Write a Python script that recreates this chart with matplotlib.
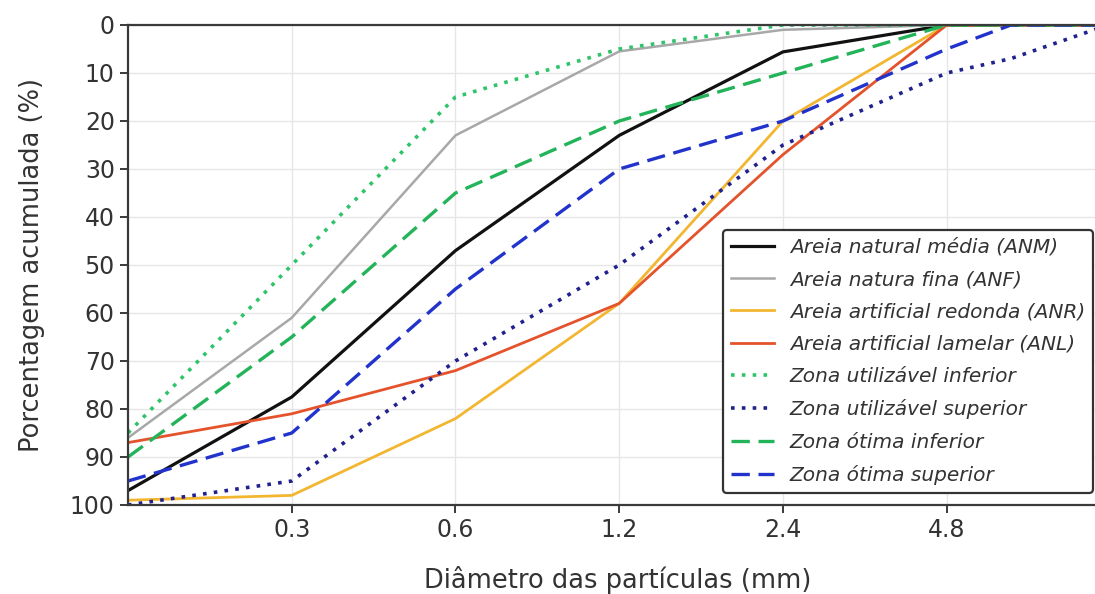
import matplotlib
matplotlib.use('Agg')
import matplotlib.pyplot as plt

# peneiras (mm)
diametros = [0.15, 0.3, 0.6, 1.2, 2.4, 4.8, 6.3, 9.5]
ticks_x = [0.3, 0.6, 1.2, 2.4, 4.8]
tick_labels_x = ['0.3', '0.6', '1.2', '2.4', '4.8']

# porcentagem retida acumulada (%)
anm = [97, 77.5, 47, 23, 5.6, 0, 0, 0]
anf = [86, 61, 23, 5.5, 1, 0, 0, 0]
anr = [99, 98, 82, 58, 20, 0, 0, 0]
anl = [87, 81, 72, 58, 27, 0, 0, 0]
util_inf = [85, 50, 15, 5, 0, 0, 0, 0]
util_sup = [100, 95, 70, 50, 25, 10, 7, 0]
otima_inf = [90, 65, 35, 20, 10, 0, 0, 0]
otima_sup = [95, 85, 55, 30, 20, 5, 0, 0]

dots = (0, (1, 2))
dashes = (0, (5.5, 2.6))
series = [
    (anm, 'Areia natural média (ANM)', '#111111', '-', 2.3),
    (anf, 'Areia natura fina (ANF)', '#a8a8a8', '-', 1.8),
    (anr, 'Areia artificial redonda (ANR)', '#f2b631', '-', 2.0),
    (anl, 'Areia artificial lamelar (ANL)', '#e4532b', '-', 2.0),
    (util_inf, 'Zona utilizável inferior', '#2fc46a', dots, 2.6),
    (util_sup, 'Zona utilizável superior', '#20208f', dots, 2.6),
    (otima_inf, 'Zona ótima inferior', '#23b45a', dashes, 2.4),
    (otima_sup, 'Zona ótima superior', '#2233cc', dashes, 2.4),
]

fig = plt.figure(figsize=(10.95, 5.94), dpi=100)
# a figura original esta cortada a direita
ax = fig.add_axes([128 / 1095, 89 / 594, 980 / 1095, 480 / 594])

for vals, label, color, ls, lw in series:
    ax.plot(diametros, vals, linestyle=ls, color=color, linewidth=lw, label=label)

ax.set_xscale('log')
ax.set_xlim(0.15, 9.5)
ax.set_ylim(100, 0)
ax.set_xticks(ticks_x)
ax.set_xticklabels(tick_labels_x)
ax.minorticks_off()
ax.set_yticks(range(0, 101, 10))

ax.grid(True, color='#e6e6e6', linewidth=1.0)
ax.set_axisbelow(True)
for sp in ax.spines.values():
    sp.set_color('#3a3a3a')
    sp.set_linewidth(1.6)
ax.tick_params(axis='both', labelsize=17, colors='#3a3a3a', length=6, width=1.4)
for lab in ax.get_xticklabels() + ax.get_yticklabels():
    lab.set_color('#333333')

ax.set_xlabel('Diâmetro das partículas (mm)', fontsize=18.5, color='#333333', labelpad=17)
ax.set_ylabel('Porcentagem acumulada (%)', fontsize=18.5, color='#333333', labelpad=18)

leg = fig.legend(loc='lower right', bbox_to_anchor=(1093 / 1095, 101 / 594),
                 bbox_transform=fig.transFigure, borderaxespad=0,
                 prop={'style': 'italic', 'size': 14.5}, handlelength=2.1,
                 labelspacing=0.66, framealpha=1, fancybox=True)
leg.get_frame().set_edgecolor('#333333')
leg.get_frame().set_linewidth(1.6)
for t in leg.get_texts():
    t.set_color('#333333')

fig.savefig('out.png', dpi=100)
